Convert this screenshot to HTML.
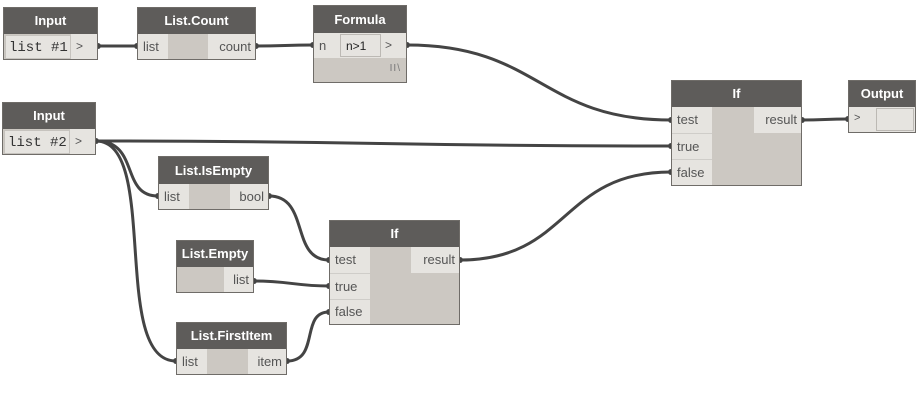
<!DOCTYPE html>
<html><head><meta charset="utf-8">
<style>
html,body{margin:0;padding:0;background:#fff;}
body{width:916px;height:410px;position:relative;overflow:hidden;font-family:"Liberation Sans","DejaVu Sans",sans-serif;}
.n{position:absolute;background:#ccc8c2;border:1px solid #6f6c68;box-sizing:border-box;}
.h{position:absolute;left:0;right:0;top:0;background:#5e5c5a;color:#fff;font-weight:bold;font-size:13px;text-align:center;box-sizing:border-box;}
.c{position:absolute;background:#e6e4e0;color:#555;font-size:13px;box-sizing:border-box;padding-left:5px;overflow:hidden;white-space:nowrap;}
.r{text-align:right;padding-right:4px;padding-left:0;}
.mono{font-family:"Liberation Mono","DejaVu Sans Mono",monospace;font-size:14px;color:#333;}
.sep{border-top:1px solid #cfcdc9;}
svg{position:absolute;left:0;top:0;}
</style></head><body>
<svg width="916" height="410">
<g fill="none" stroke="#444" stroke-width="3">
<path d="M98,46 C118,46 118,46 137,46"/>
<path d="M256,46 C285,46 285,45 313,45"/>
<path d="M407,45 C540,45 540,120 671,120"/>
<path d="M96,141 C380,141 380,146 671,146"/>
<path d="M96,141 C140,141 120,196 158,196"/>
<path d="M96,141 C160,141 110,361 176,361"/>
<path d="M269,196 C310,196 290,260 329,260"/>
<path d="M254,281 C290,281 295,286 329,286"/>
<path d="M287,361 C320,361 300,312 329,312"/>
<path d="M460,260 C570,260 560,172 671,172"/>
<path d="M802,120 C825,120 825,119 848,119"/>
</g>
<g fill="#444">
<circle cx="98" cy="46" r="3"/><circle cx="137" cy="46" r="3"/>
<circle cx="256" cy="46" r="3"/><circle cx="313" cy="45" r="3"/>
<circle cx="407" cy="45" r="3"/><circle cx="671" cy="120" r="3"/>
<circle cx="671" cy="146" r="3"/><circle cx="671" cy="172" r="3"/>
<circle cx="96" cy="141" r="3"/><circle cx="158" cy="196" r="3"/>
<circle cx="176" cy="361" r="3"/><circle cx="269" cy="196" r="3"/>
<circle cx="329" cy="260" r="3"/><circle cx="254" cy="281" r="3"/>
<circle cx="329" cy="286" r="3"/><circle cx="287" cy="361" r="3"/>
<circle cx="329" cy="312" r="3"/><circle cx="460" cy="260" r="3"/>
<circle cx="802" cy="120" r="3"/><circle cx="848" cy="119" r="3"/>
</g>
</svg>

<div class="n" style="left:3px;top:7px;width:95px;height:53px;">
<div class="h" style="height:26px;line-height:26px;">Input</div>
<div class="c mono" style="left:1px;top:27px;width:66px;height:24px;line-height:24px;border:1px solid #c6c3be;padding-left:3px;">list #1</div>
<div class="c" style="left:67px;top:26px;width:26px;height:25px;line-height:25px;font-size:12px;">&gt;</div>
</div>

<div class="n" style="left:137px;top:7px;width:119px;height:53px;">
<div class="h" style="height:26px;line-height:26px;">List.Count</div>
<div class="c" style="left:0;top:26px;width:30px;height:25px;line-height:25px;">list</div>
<div class="c r" style="left:70px;top:26px;width:47px;height:25px;line-height:25px;">count</div>
</div>

<div class="n" style="left:313px;top:5px;width:94px;height:78px;">
<div class="h" style="height:27px;line-height:27px;">Formula</div>
<div class="c" style="left:0;top:27px;width:92px;height:25px;line-height:25px;">n</div>
<div class="c" style="left:26px;top:28px;width:41px;height:23px;line-height:22px;border:1px solid #bcb9b4;font-size:12px;color:#222;">n&gt;1</div>
<div style="position:absolute;left:71px;top:27px;font-size:12px;line-height:25px;color:#555;">&gt;</div>
<div style="position:absolute;right:5px;top:57px;font-size:10px;color:#777;letter-spacing:1px;">II\</div>
</div>

<div class="n" style="left:2px;top:102px;width:94px;height:53px;">
<div class="h" style="height:26px;line-height:26px;">Input</div>
<div class="c mono" style="left:1px;top:27px;width:66px;height:24px;line-height:24px;border:1px solid #c6c3be;padding-left:3px;">list #2</div>
<div class="c" style="left:67px;top:26px;width:25px;height:25px;line-height:25px;font-size:12px;">&gt;</div>
</div>

<div class="n" style="left:671px;top:80px;width:131px;height:106px;">
<div class="h" style="height:26px;line-height:26px;">If</div>
<div class="c" style="left:0;top:26px;width:40px;height:26px;line-height:26px;">test</div>
<div class="c sep" style="left:0;top:52px;width:40px;height:26px;line-height:25px;">true</div>
<div class="c sep" style="left:0;top:78px;width:40px;height:26px;line-height:25px;">false</div>
<div class="c r" style="left:82px;top:26px;width:47px;height:26px;line-height:26px;">result</div>
</div>

<div class="n" style="left:848px;top:80px;width:68px;height:53px;">
<div class="h" style="height:26px;line-height:26px;">Output</div>
<div class="c" style="left:0;top:26px;width:66px;height:25px;line-height:23px;font-size:11px;">&gt;</div>
<div class="c" style="left:27px;top:27px;width:38px;height:23px;border:1px solid #bcb9b4;"></div>
</div>

<div class="n" style="left:158px;top:156px;width:111px;height:54px;">
<div class="h" style="height:27px;line-height:27px;">List.IsEmpty</div>
<div class="c" style="left:0;top:27px;width:30px;height:25px;line-height:25px;">list</div>
<div class="c r" style="left:71px;top:27px;width:38px;height:25px;line-height:25px;">bool</div>
</div>

<div class="n" style="left:176px;top:240px;width:78px;height:53px;">
<div class="h" style="height:26px;line-height:26px;">List.Empty</div>
<div class="c r" style="left:47px;top:26px;width:29px;height:25px;line-height:25px;">list</div>
</div>

<div class="n" style="left:329px;top:220px;width:131px;height:105px;">
<div class="h" style="height:26px;line-height:26px;">If</div>
<div class="c" style="left:0;top:26px;width:40px;height:26px;line-height:26px;">test</div>
<div class="c sep" style="left:0;top:52px;width:40px;height:26px;line-height:25px;">true</div>
<div class="c sep" style="left:0;top:78px;width:40px;height:25px;line-height:24px;">false</div>
<div class="c r" style="left:81px;top:26px;width:48px;height:26px;line-height:26px;">result</div>
</div>

<div class="n" style="left:176px;top:322px;width:111px;height:53px;">
<div class="h" style="height:26px;line-height:26px;">List.FirstItem</div>
<div class="c" style="left:0;top:26px;width:30px;height:25px;line-height:25px;">list</div>
<div class="c r" style="left:71px;top:26px;width:38px;height:25px;line-height:25px;">item</div>
</div>
</body></html>
